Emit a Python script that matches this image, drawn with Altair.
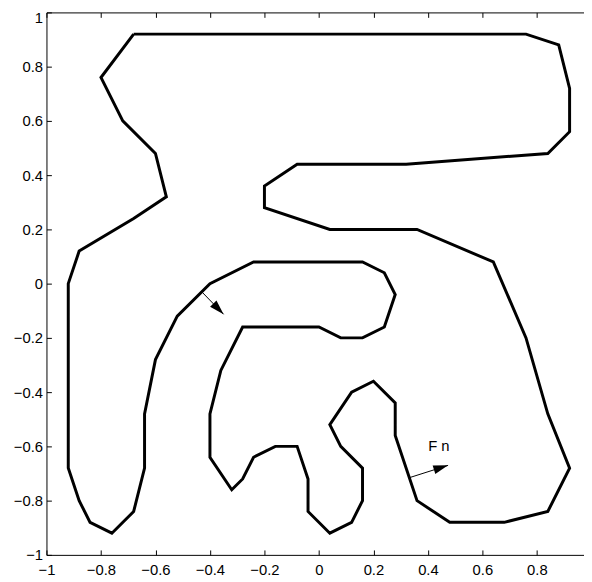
import math
import altair as alt
import pandas as pd

# ---- data ----
path_x = [-0.68, 0.76, 0.88, 0.92, 0.92, 0.84, 0.32, -0.08, -0.20, -0.20,
          0.04, 0.36, 0.64, 0.76, 0.84, 0.92, 0.84, 0.68, 0.48, 0.36,
          0.28, 0.28, 0.20, 0.12, 0.04, 0.08, 0.16, 0.16, 0.12, 0.04,
          -0.04, -0.04, -0.08, -0.16, -0.24, -0.28, -0.32, -0.40, -0.40, -0.36,
          -0.28, 0.00, 0.08, 0.16, 0.24, 0.28, 0.24, 0.16, -0.24, -0.40,
          -0.52, -0.60, -0.64, -0.64, -0.68, -0.76, -0.84, -0.88, -0.92, -0.92,
          -0.88, -0.68, -0.56, -0.60, -0.72, -0.80]
path_y = [0.92, 0.92, 0.88, 0.72, 0.56, 0.48, 0.44, 0.44, 0.36, 0.28,
          0.20, 0.20, 0.08, -0.20, -0.48, -0.68, -0.84, -0.88, -0.88, -0.80,
          -0.56, -0.44, -0.36, -0.40, -0.52, -0.60, -0.68, -0.80, -0.88, -0.92,
          -0.84, -0.72, -0.60, -0.60, -0.64, -0.72, -0.76, -0.64, -0.48, -0.32,
          -0.16, -0.16, -0.20, -0.20, -0.16, -0.04, 0.04, 0.08, 0.08, 0.00,
          -0.12, -0.28, -0.48, -0.68, -0.84, -0.92, -0.88, -0.80, -0.68, 0.00,
          0.12, 0.24, 0.32, 0.48, 0.60, 0.76]

arrow_x0 = [-0.43, 0.333]
arrow_y0 = [-0.03, -0.715]
arrow_x1 = [-0.35, 0.474]
arrow_y1 = [-0.113, -0.67]

label_text = ["F n"]
label_x = [0.44]
label_y = [-0.60]

tick_values = [-1, -0.8, -0.6, -0.4, -0.2, 0, 0.2, 0.4, 0.6, 0.8, 1]
x_label_values = [-1, -0.8, -0.6, -0.4, -0.2, 0, 0.2, 0.4, 0.6, 0.8]
y_label_values = [-1, -0.8, -0.6, -0.4, -0.2, 0, 0.2, 0.4, 0.6, 0.8]
y_top_label_values = [1]

# ---- layout ----
W, H = 552.5, 550
FONT = "Liberation Sans"
HEAD_LEN = 15
TICK = 5
ARROW_SHAPE = "M0,0L-1,-0.3L-1,0.3Z"

n = len(path_x)
path_df = pd.DataFrame({
    "x": path_x + [path_x[0]],
    "y": path_y + [path_y[0]],
    "order": list(range(n + 1)),
})

sx, sy = W / 2.0, H / 2.0
angles = []
for a, b, c, d in zip(arrow_x0, arrow_y0, arrow_x1, arrow_y1):
    ang = math.degrees(math.atan2(-(d - b) * sy, (c - a) * sx)) % 360
    angles.append(ang)
arrow_df = pd.DataFrame({"x0": arrow_x0, "y0": arrow_y0,
                         "x1": arrow_x1, "y1": arrow_y1, "angle": angles})
text_df = pd.DataFrame({"x": label_x, "y": label_y, "text": label_text})

xs = alt.Scale(domain=[-1, 1], nice=False, zero=False)
ys = alt.Scale(domain=[-1, 1], nice=False, zero=False)

label_style = dict(grid=False, domain=False, title=None, ticks=False,
                   labelFont=FONT, labelFontSize=15, labelColor="black",
                   labelFlush=False, labelOverlap=False, format="~g")
tick_style = dict(grid=False, domain=False, title=None, labels=False,
                  ticks=True, tickSize=TICK, tickColor="black", tickWidth=1,
                  values=tick_values, zindex=1)

# labelled axes (no ticks)
x_labels = alt.Axis(orient="bottom", values=x_label_values, labelPadding=7.5,
                    labelExpr="datum.value < 0 ? datum.label + '\u2007' : datum.label",
                    **label_style)
y_labels = alt.Axis(orient="left", values=y_label_values, labelPadding=4,
                    **label_style)
y_top_label = alt.Axis(orient="left", values=y_top_label_values,
                       labelPadding=4, labelOffset=5.5, **label_style)
# inward ticks drawn just inside each visible edge
x_ticks_bottom = alt.Axis(orient="bottom", offset=-TICK, **tick_style)
x_ticks_top = alt.Axis(orient="bottom", offset=-H, **tick_style)
y_ticks_left = alt.Axis(orient="right", offset=-W, **tick_style)

line = alt.Chart(path_df).mark_line(color="black", strokeWidth=3).encode(
    x=alt.X("x:Q", scale=xs, axis=x_labels),
    y=alt.Y("y:Q", scale=ys, axis=y_labels),
    order="order:Q",
)

label = alt.Chart(text_df).mark_text(font=FONT, fontSize=15, color="black",
                                     baseline="middle").encode(
    x=alt.X("x:Q", scale=xs, axis=x_ticks_bottom),
    y=alt.Y("y:Q", scale=ys, axis=y_ticks_left),
    text="text:N",
)

shafts = alt.Chart(arrow_df).mark_rule(color="black", strokeWidth=1).encode(
    x=alt.X("x0:Q", scale=xs, axis=x_ticks_top),
    y=alt.Y("y0:Q", scale=ys, axis=y_top_label),
    x2="x1:Q",
    y2="y1:Q",
)

heads = alt.Chart(arrow_df).mark_point(shape=ARROW_SHAPE, filled=True,
                                       color="black", opacity=1,
                                       size=4 * HEAD_LEN ** 2).encode(
    x=alt.X("x1:Q", scale=xs, axis=None),
    y=alt.Y("y1:Q", scale=ys, axis=None),
    angle=alt.Angle("angle:Q", scale=None),
)

chart = alt.layer(line, label, shafts, heads).resolve_axis(
    x="independent", y="independent"
).properties(
    width=W, height=H,
    autosize=alt.AutoSizeParams(type="none"),
    padding={"left": 39, "top": 0.5, "right": -7.5, "bottom": 22},
    background="white",
).configure_view(stroke="black", strokeWidth=1)

chart.save("out.html", embed_options={"renderer": "svg", "actions": False})
